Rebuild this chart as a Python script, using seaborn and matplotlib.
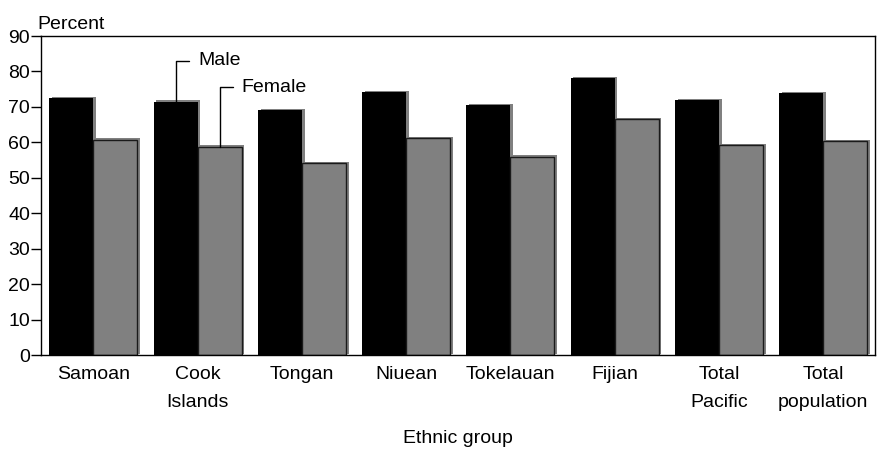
import matplotlib
matplotlib.use("Agg")
import matplotlib.pyplot as plt
import matplotlib.patheffects as pe
import seaborn as sns
import pandas as pd

sns.set_theme(style="white")
plt.rcParams["font.family"] = ["Liberation Sans", "DejaVu Sans"]
plt.rcParams["text.color"] = "black"
plt.rcParams["xtick.color"] = "black"
plt.rcParams["ytick.color"] = "black"
plt.rcParams["axes.labelcolor"] = "black"

groups = ["Samoan", "Cook\nIslands", "Tongan", "Niuean", "Tokelauan",
          "Fijian", "Total\nPacific", "Total\npopulation"]
male = [72.4, 71.5, 69.2, 74.3, 70.6, 78.2, 71.9, 74.0]
female = [60.8, 58.8, 54.2, 61.3, 56.0, 66.6, 59.2, 60.4]
sexes = ["Male", "Female"]

df = pd.DataFrame({
    "group": groups * 2,
    "value": male + female,
    "sex": ["Male"] * len(groups) + ["Female"] * len(groups),
})

FS = 14

fig = plt.figure(figsize=(8.77, 4.5), dpi=100)
ax = fig.add_axes([0.047, 0.211, 0.951, 0.709])

sns.barplot(data=df, x="group", y="value", hue="sex", hue_order=sexes,
            palette={"Male": "#000000", "Female": "#808080"},
            width=0.845, gap=0, saturation=1, legend=False, ax=ax)

shadow = [pe.SimplePatchShadow(offset=(2, 0.8), shadow_rgbFace="#808080", alpha=1.0),
          pe.Normal()]
for cont, hue in zip(ax.containers, sexes):
    for bar in cont:
        bar.set_path_effects(shadow)
        if hue == "Female":
            bar.set_edgecolor("#1a1a1a")
            bar.set_linewidth(1.0)
        else:
            bar.set_edgecolor("#000000")
            bar.set_linewidth(0)

ax.set_ylim(0, 90)
ax.set_yticks(range(0, 91, 10))
ax.set_xlim(-0.5, len(groups) - 0.5)
ax.tick_params(axis="y", length=7, width=1, labelsize=FS, pad=1, left=True)
ax.tick_params(axis="x", length=0, labelsize=FS, pad=8)
for lbl in ax.get_xticklabels():
    lbl.set_linespacing(1.8)
for s in ax.spines.values():
    s.set_color("black")
    s.set_linewidth(1.0)

ax.set_xlabel("Ethnic group", fontsize=FS, labelpad=14)
ax.set_ylabel("")
ax.text(-0.005, 1.008, "Percent", transform=ax.transAxes, fontsize=FS,
        ha="left", va="bottom")

# Leader lines naming the two series on the Cook Islands bars
bw = 0.845 / 2
xm = 1 - bw / 2
xf = 1 + bw / 2
ax.plot([xm, xm, xm + 0.13], [male[1], 83.0, 83.0], color="black", lw=1)
ax.text(xm + 0.22, 83.0, "Male", fontsize=FS, va="center", ha="left")
ax.plot([xf, xf, xf + 0.13], [female[1], 75.5, 75.5], color="black", lw=1)
ax.text(xf + 0.21, 75.5, "Female", fontsize=FS, va="center", ha="left")

fig.savefig("out.png", dpi=100)
